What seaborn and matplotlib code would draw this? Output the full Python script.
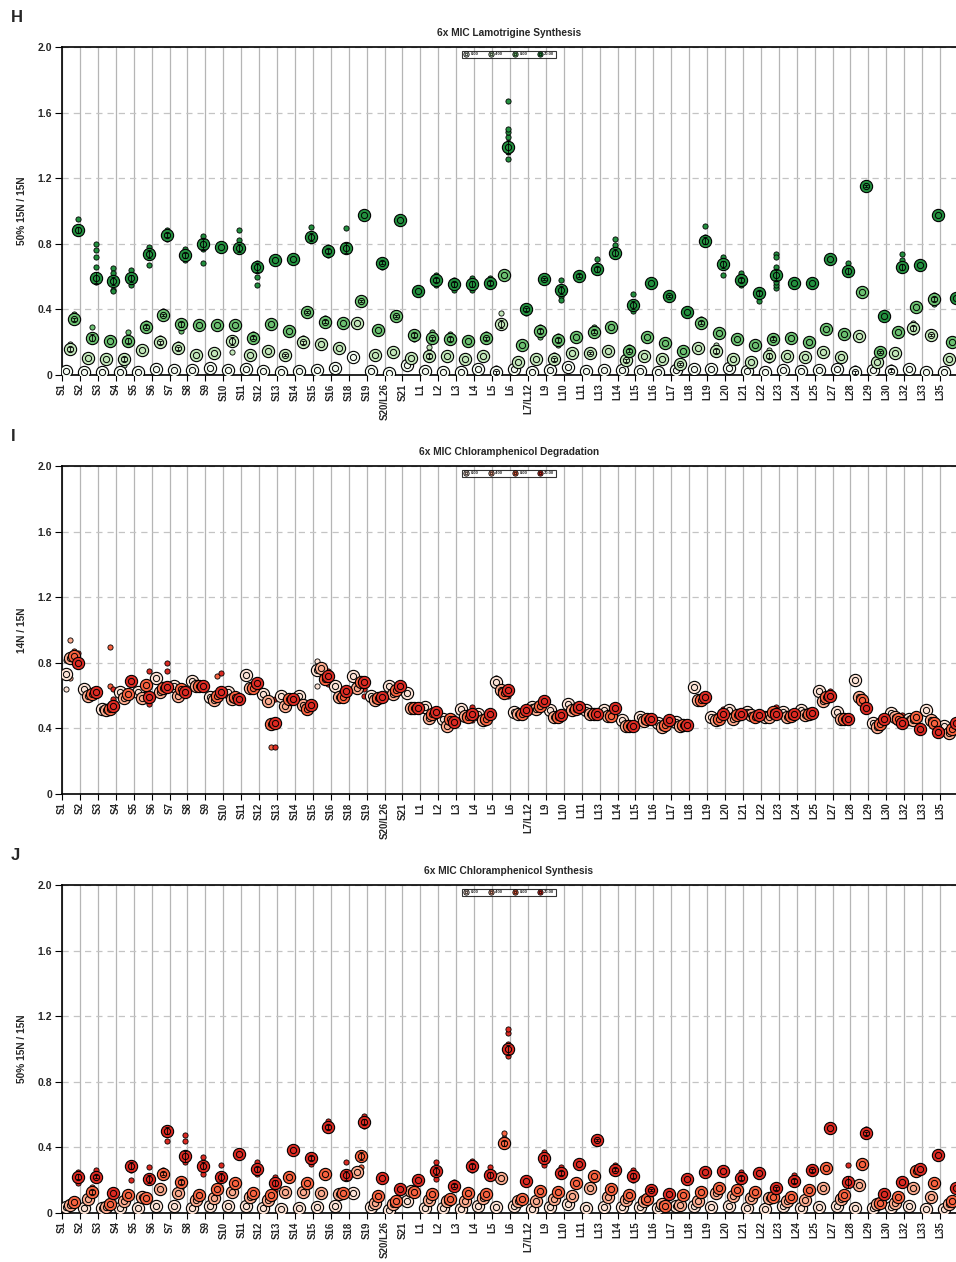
import numpy as np
import pandas as pd
import matplotlib
matplotlib.use("Agg")
import matplotlib.pyplot as plt
import seaborn as sns
from matplotlib.lines import Line2D
from matplotlib.legend_handler import HandlerTuple

sns.set_theme(style="white")
plt.rcParams["font.family"] = ["Liberation Sans", "DejaVu Sans"]
plt.rcParams["font.weight"] = "bold"

# ---------------------------------------------------------------- data
categories = ["S1", "S2", "S3", "S4", "S5", "S6", "S7", "S8", "S9", "S10",
              "S11", "S12", "S13", "S14", "S15", "S16", "S18", "S19", "S20/L26", "S21",
              "L1", "L2", "L3", "L4", "L5", "L6", "L7/L12", "L9", "L10", "L11",
              "L13", "L14", "L15", "L16", "L17", "L18", "L19", "L20", "L21", "L22",
              "L23", "L24", "L25", "L27", "L28", "L29", "L30", "L32", "L33", "L35"]
doses = ["0.00", "4.00", "8.00", "20.00"]
yticks = [0, 0.4, 0.8, 1.2, 1.6, 2.0]
ytick_labels = ["0", "0.4", "0.8", "1.2", "1.6", "2.0"]

# H: Lamotrigine synthesis, 50% 15N / 15N (group means)
H_0 = [0.026, 0.016, 0.016, 0.02, 0.02, 0.035, 0.03, 0.03, 0.04, 0.03,
       0.035, 0.025, 0.016, 0.025, 0.03, 0.04, 0.108, 0.026, 0.014, 0.061,
       0.026, 0.016, 0.016, 0.035, 0.016, 0.035, 0.016, 0.03, 0.047, 0.024,
       0.03, 0.03, 0.026, 0.02, 0.03, 0.036, 0.035, 0.04, 0.026, 0.016,
       0.03, 0.026, 0.03, 0.036, 0.016, 0.03, 0.026, 0.035, 0.016, 0.02]
H_4 = [0.159, 0.105, 0.098, 0.096, 0.152, 0.2, 0.163, 0.122, 0.135, 0.207,
       0.122, 0.146, 0.122, 0.2, 0.19, 0.167, 0.315, 0.122, 0.138, 0.106,
       0.116, 0.116, 0.10, 0.116, 0.31, 0.077, 0.095, 0.095, 0.132, 0.132,
       0.146, 0.09, 0.118, 0.095, 0.065, 0.167, 0.148, 0.10, 0.081, 0.118,
       0.118, 0.11, 0.138, 0.108, 0.238, 0.077, 0.136, 0.284, 0.244, 0.10]
H_8 = [0.34, 0.228, 0.21, 0.21, 0.295, 0.366, 0.31, 0.305, 0.305, 0.305,
       0.228, 0.31, 0.27, 0.386, 0.325, 0.32, 0.45, 0.274, 0.36, 0.244,
       0.224, 0.22, 0.21, 0.224, 0.61, 0.18, 0.268, 0.213, 0.234, 0.264,
       0.29, 0.148, 0.234, 0.193, 0.146, 0.32, 0.258, 0.22, 0.18, 0.22,
       0.228, 0.2, 0.279, 0.248, 0.508, 0.14, 0.264, 0.413, 0.463, 0.203]
H_20 = [0.884, 0.594, 0.573, 0.59, 0.738, 0.854, 0.73, 0.797, 0.78, 0.776,
        0.656, 0.70, 0.71, 0.84, 0.756, 0.776, 0.976, 0.685, 0.945, 0.514,
        0.58, 0.553, 0.555, 0.563, 1.39, 0.40, 0.583, 0.518, 0.606, 0.646,
        0.746, 0.427, 0.559, 0.484, 0.382, 0.82, 0.675, 0.58, 0.498, 0.61,
        0.563, 0.563, 0.71, 0.634, 1.154, 0.36, 0.66, 0.67, 0.976, 0.47]
H_reps = {
    ("S1", "20.00"): [0.95, 0.865], ("S1", "8.00"): [0.37], ("S1", "4.00"): [0.19],
    ("S2", "20.00"): [0.80, 0.76, 0.72, 0.66, 0.57], ("S2", "8.00"): [0.29],
    ("S3", "20.00"): [0.65, 0.62, 0.52, 0.51],
    ("S4", "20.00"): [0.64, 0.55], ("S4", "8.00"): [0.26], ("S4", "4.00"): [0.06],
    ("S5", "20.00"): [0.78, 0.67], ("S5", "8.00"): [0.32],
    ("S6", "20.00"): [0.885, 0.83], ("S6", "8.00"): [0.39], ("S6", "4.00"): [0.225],
    ("S7", "20.00"): [0.77, 0.70], ("S7", "8.00"): [0.33, 0.27], ("S7", "4.00"): [0.19],
    ("S8", "20.00"): [0.845, 0.77, 0.68],
    ("S10", "20.00"): [0.885, 0.825], ("S10", "4.00"): [0.14],
    ("S11", "20.00"): [0.68, 0.60, 0.55], ("S11", "8.00"): [0.25],
    ("S13", "4.00"): [0.14],
    ("S14", "20.00"): [0.905], ("S14", "8.00"): [0.40], ("S14", "4.00"): [0.225],
    ("S15", "20.00"): [0.78, 0.73], ("S15", "8.00"): [0.35],
    ("S16", "20.00"): [0.79, 0.894],
    ("S18", "8.00"): [0.47],
    ("S19", "20.00"): [0.66],
    ("S20/L26", "8.00"): [0.38],
    ("S21", "8.00"): [0.26, 0.22],
    ("L1", "20.00"): [0.61, 0.55], ("L1", "8.00"): [0.25, 0.26], ("L1", "4.00"): [0.14, 0.17],
    ("L2", "20.00"): [0.58, 0.52], ("L2", "8.00"): [0.25],
    ("L3", "20.00"): [0.59, 0.52],
    ("L4", "20.00"): [0.59, 0.54], ("L4", "8.00"): [0.25],
    ("L5", "20.00"): [1.45, 1.48, 1.50, 1.67, 1.32, 1.36], ("L5", "4.00"): [0.376],
    ("L5", "0.00"): [0.04],
    ("L6", "20.00"): [0.42, 0.38],
    ("L7/L12", "20.00"): [0.60], ("L7/L12", "8.00"): [0.29, 0.23],
    ("L9", "20.00"): [0.58, 0.48, 0.46], ("L9", "8.00"): [0.24, 0.18], ("L9", "4.00"): [0.12],
    ("L10", "20.00"): [0.62, 0.59],
    ("L11", "20.00"): [0.67, 0.71], ("L11", "8.00"): [0.29], ("L11", "4.00"): [0.15],
    ("L13", "20.00"): [0.79, 0.83],
    ("L14", "20.00"): [0.494, 0.39], ("L14", "8.00"): [0.17], ("L14", "4.00"): [0.12],
    ("L16", "20.00"): [0.50],
    ("L17", "4.00"): [0.08],
    ("L18", "20.00"): [0.84, 0.908], ("L18", "8.00"): [0.34],
    ("L19", "20.00"): [0.70, 0.61, 0.72], ("L19", "4.00"): [0.18],
    ("L20", "20.00"): [0.61, 0.62, 0.55],
    ("L21", "20.00"): [0.52, 0.45],
    ("L22", "20.00"): [0.74, 0.72, 0.66, 0.53, 0.55, 0.57], ("L22", "8.00"): [0.24, 0.20],
    ("L22", "4.00"): [0.15, 0.09],
    ("L27", "20.00"): [0.68],
    ("L28", "20.00"): [1.17, 1.14], ("L28", "0.00"): [0.04],
    ("L29", "8.00"): [0.16],
    ("L30", "20.00"): [0.70, 0.74], ("L30", "0.00"): [0.05],
    ("L32", "4.00"): [0.32, 0.26],
    ("L33", "8.00"): [0.49, 0.43], ("L33", "4.00"): [0.26],
}

# I: Chloramphenicol degradation, 14N / 15N
I_0 = [0.73, 0.638, 0.516, 0.62, 0.62, 0.71, 0.66, 0.69, 0.59, 0.62,
       0.726, 0.61, 0.60, 0.60, 0.756, 0.658, 0.72, 0.60, 0.66, 0.615,
       0.53, 0.455, 0.52, 0.49, 0.685, 0.50, 0.53, 0.51, 0.55, 0.51,
       0.51, 0.45, 0.47, 0.43, 0.44, 0.65, 0.467, 0.51, 0.50, 0.47,
       0.50, 0.51, 0.63, 0.50, 0.695, 0.43, 0.495, 0.455, 0.51, 0.415]
I_4 = [0.827, 0.60, 0.51, 0.587, 0.585, 0.62, 0.60, 0.66, 0.575, 0.58,
       0.645, 0.57, 0.537, 0.54, 0.767, 0.59, 0.645, 0.576, 0.61, 0.523,
       0.465, 0.415, 0.475, 0.45, 0.636, 0.485, 0.52, 0.467, 0.51, 0.487,
       0.475, 0.415, 0.445, 0.41, 0.415, 0.576, 0.45, 0.46, 0.48, 0.47,
       0.467, 0.48, 0.565, 0.455, 0.59, 0.41, 0.47, 0.45, 0.45, 0.37]
I_8 = [0.84, 0.61, 0.516, 0.61, 0.665, 0.645, 0.64, 0.66, 0.595, 0.59,
       0.645, 0.427, 0.577, 0.52, 0.70, 0.594, 0.68, 0.585, 0.635, 0.523,
       0.485, 0.455, 0.47, 0.455, 0.615, 0.49, 0.535, 0.467, 0.52, 0.485,
       0.477, 0.415, 0.455, 0.42, 0.42, 0.576, 0.46, 0.48, 0.47, 0.50,
       0.475, 0.49, 0.59, 0.455, 0.575, 0.425, 0.46, 0.467, 0.43, 0.395]
I_20 = [0.80, 0.62, 0.535, 0.69, 0.59, 0.655, 0.62, 0.66, 0.62, 0.58,
        0.675, 0.435, 0.58, 0.54, 0.72, 0.63, 0.685, 0.59, 0.66, 0.523,
        0.50, 0.44, 0.49, 0.485, 0.636, 0.51, 0.57, 0.48, 0.53, 0.485,
        0.523, 0.415, 0.46, 0.45, 0.42, 0.59, 0.487, 0.487, 0.48, 0.49,
        0.487, 0.495, 0.60, 0.457, 0.523, 0.457, 0.435, 0.395, 0.38, 0.43]
I_reps = {
    ("S1", "0.00"): [0.64, 0.82], ("S1", "4.00"): [0.94, 0.71], ("S1", "8.00"): [0.87],
    ("S1", "20.00"): [0.86, 0.78],
    ("S3", "8.00"): [0.898, 0.66], ("S3", "20.00"): [0.58, 0.64],
    ("S5", "20.00"): [0.75, 0.55],
    ("S6", "20.00"): [0.80, 0.75],
    ("S9", "8.00"): [0.72], ("S9", "20.00"): [0.74],
    ("S12", "8.00"): [0.285], ("S12", "20.00"): [0.285, 0.58],
    ("S15", "0.00"): [0.81, 0.66], ("S15", "20.00"): [0.75, 0.67],
    ("S18", "20.00"): [0.64, 0.60],
    ("L3", "20.00"): [0.53, 0.45],
    ("L5", "0.00"): [0.71], ("L5", "20.00"): [0.60],
    ("L19", "20.00"): [0.52],
    ("L22", "20.00"): [0.53],
    ("L25", "20.00"): [0.63],
    ("L30", "20.00"): [0.48],
}

# J: Chloramphenicol synthesis, 50% 15N / 15N
J_0 = [0.039, 0.03, 0.03, 0.03, 0.03, 0.045, 0.04, 0.03, 0.045, 0.04,
       0.04, 0.03, 0.024, 0.03, 0.035, 0.04, 0.122, 0.035, 0.02, 0.071,
       0.033, 0.03, 0.024, 0.04, 0.035, 0.04, 0.024, 0.035, 0.055, 0.03,
       0.035, 0.035, 0.035, 0.03, 0.04, 0.04, 0.035, 0.045, 0.03, 0.024,
       0.04, 0.03, 0.035, 0.04, 0.03, 0.03, 0.035, 0.04, 0.024, 0.024]
J_4 = [0.049, 0.085, 0.039, 0.073, 0.10, 0.146, 0.124, 0.077, 0.09, 0.126,
       0.096, 0.081, 0.126, 0.126, 0.124, 0.116, 0.248, 0.06, 0.055, 0.136,
       0.08, 0.076, 0.071, 0.09, 0.211, 0.071, 0.071, 0.085, 0.104, 0.15,
       0.10, 0.08, 0.071, 0.055, 0.05, 0.076, 0.12, 0.104, 0.09, 0.09,
       0.071, 0.08, 0.154, 0.085, 0.17, 0.055, 0.063, 0.154, 0.10, 0.055]
J_8 = [0.069, 0.126, 0.053, 0.11, 0.09, 0.24, 0.187, 0.11, 0.146, 0.185,
       0.12, 0.107, 0.218, 0.181, 0.236, 0.122, 0.348, 0.104, 0.071, 0.126,
       0.116, 0.085, 0.122, 0.118, 0.425, 0.085, 0.136, 0.126, 0.181, 0.226,
       0.146, 0.11, 0.085, 0.04, 0.11, 0.128, 0.15, 0.142, 0.128, 0.095,
       0.10, 0.142, 0.272, 0.11, 0.30, 0.063, 0.10, 0.258, 0.185, 0.073]
J_20 = [0.221, 0.221, 0.124, 0.289, 0.209, 0.502, 0.347, 0.289, 0.218, 0.359,
        0.266, 0.181, 0.384, 0.333, 0.526, 0.23, 0.557, 0.216, 0.146, 0.199,
        0.254, 0.165, 0.285, 0.23, 0.998, 0.197, 0.335, 0.244, 0.30, 0.445,
        0.264, 0.228, 0.142, 0.116, 0.207, 0.248, 0.256, 0.215, 0.244, 0.15,
        0.197, 0.26, 0.52, 0.19, 0.486, 0.116, 0.19, 0.266, 0.354, 0.15]
J_reps = {
    ("S1", "20.00"): [0.25, 0.18],
    ("S2", "20.00"): [0.26, 0.24], ("S2", "8.00"): [0.16],
    ("S4", "20.00"): [0.26, 0.20],
    ("S5", "20.00"): [0.28],
    ("S6", "20.00"): [0.44], ("S6", "8.00"): [0.26],
    ("S7", "20.00"): [0.476, 0.44, 0.31], ("S7", "8.00"): [0.15],
    ("S8", "20.00"): [0.34, 0.24],
    ("S9", "20.00"): [0.29],
    ("S11", "20.00"): [0.31, 0.24],
    ("S12", "20.00"): [0.22, 0.14],
    ("S14", "20.00"): [0.30],
    ("S15", "20.00"): [0.56],
    ("S16", "20.00"): [0.31],
    ("S18", "20.00"): [0.59, 0.53], ("S18", "8.00"): [0.28],
    ("L1", "20.00"): [0.31, 0.21],
    ("L2", "20.00"): [0.19],
    ("L3", "20.00"): [0.32, 0.26],
    ("L4", "20.00"): [0.28],
    ("L5", "20.00"): [1.03, 1.10, 1.12, 0.96], ("L5", "8.00"): [0.46, 0.49],
    ("L7/L12", "20.00"): [0.37, 0.29],
    ("L9", "20.00"): [0.28],
    ("L11", "20.00"): [0.46],
    ("L13", "20.00"): [0.29],
    ("L14", "20.00"): [0.26, 0.20],
    ("L15", "20.00"): [0.16],
    ("L20", "20.00"): [0.25],
    ("L22", "20.00"): [0.17],
    ("L23", "20.00"): [0.23],
    ("L24", "20.00"): [0.28],
    ("L27", "20.00"): [0.29],
    ("L28", "20.00"): [0.51],
}

GREENS = ["#f4fbf2", "#c2e6b9", "#6cc071", "#23903f"]
REDS = ["#fde3d6", "#fbab8f", "#f7623f", "#dc2a22"]

# horizontal placement of the four dose groups right of each category tick
OFFSETS = [0.24, 0.47, 0.66, 0.87]

W, H = 956, 1262
fig = plt.figure(figsize=(W / 100, H / 100), dpi=100)


def frame(means, reps):
    rows, rrows = [], []
    for k, d in enumerate(doses):
        for i, c in enumerate(categories):
            rows.append({"cat": c, "dose": d, "x": i + OFFSETS[k], "value": means[k][i]})
            for v in reps.get((c, d), []):
                rrows.append({"cat": c, "dose": d, "x": i + OFFSETS[k], "value": v})
    return pd.DataFrame(rows), pd.DataFrame(rrows)


def panel(top_px, letter, title, ylabel, means, reps, pal, show_err=True):
    ax = fig.add_axes([62 / W, 1 - (top_px + 328) / H, (W - 62) / W, 328 / H])
    df, dr = frame(means, reps)
    for k, d in enumerate(doses):
        sub = df[df["dose"] == d]
        rsub = dr[dr["dose"] == d] if len(dr) else dr
        if len(rsub):
            sns.scatterplot(data=rsub, x="x", y="value", color=pal[k], s=14,
                            edgecolor="black", linewidth=0.6, ax=ax, zorder=3 + k * 0.1)
            if show_err:
                # standard error of the replicates around the group mean
                for (c, x), g in rsub.groupby(["cat", "x"]):
                    m = sub.loc[sub["cat"] == c, "value"].iloc[0]
                    vals = np.r_[g["value"].to_numpy(), m]
                    err = vals.std() / np.sqrt(len(vals))
                    ax.errorbar([x], [m], yerr=[err], fmt="none", ecolor="black",
                                elinewidth=0.6, capsize=1.6, capthick=0.6,
                                zorder=4.06 + k * 0.1)
        sns.scatterplot(data=sub, x="x", y="value", color=pal[k], s=78,
                        edgecolor="black", linewidth=0.8, ax=ax, zorder=4 + k * 0.1)
        sns.scatterplot(data=sub, x="x", y="value", color=pal[k], s=20,
                        edgecolor="black", linewidth=0.7, ax=ax, zorder=4.05 + k * 0.1)

    ax.set_xlim(0, (W - 62) / 17.92)
    ax.set_ylim(0, 2.0)
    ax.set_xticks(range(len(categories)))
    ax.set_xticklabels(categories, rotation=90, fontsize=7, fontweight="bold")
    ax.set_yticks(yticks)
    ax.set_yticklabels(ytick_labels, fontsize=7.5, fontweight="bold")
    ax.tick_params(axis="x", length=4, width=0.8, pad=2, color="black", direction="out",
                   bottom=True)
    ax.tick_params(axis="y", length=5, width=0.8, pad=2, color="black", direction="out",
                   left=True)
    ax.set_xlabel("")
    ax.set_ylabel(ylabel, fontsize=7.3, fontweight="bold")
    ax.yaxis.set_label_coords(-0.039, 0.5)
    ax.set_title(title, fontsize=7.3, fontweight="bold", pad=8)

    ax.set_axisbelow(True)
    ax.xaxis.grid(True, color="#b5b5b5", lw=0.9)
    ax.yaxis.grid(True, color="#c4c4c4", lw=0.9, ls=(0, (5, 4)))
    for side in ("left", "bottom", "top"):
        ax.spines[side].set_color("black")
        ax.spines[side].set_linewidth(1.2)
    ax.spines["right"].set_visible(False)

    handles = [(Line2D([], [], ls="", marker="o", ms=3.8, mfc=pal[k], mec="black", mew=0.6),
                Line2D([], [], ls="", marker="o", ms=1.8, mfc=pal[k], mec="black", mew=0.5))
               for k in range(len(doses))]
    leg = ax.legend(handles, doses, handler_map={tuple: HandlerTuple(ndivide=1, pad=0)},
                    ncol=4, fontsize=3, loc="upper center", bbox_to_anchor=(0.5, 0.988),
                    frameon=True, fancybox=False, edgecolor="black", borderpad=0.35,
                    handlelength=1.2, handletextpad=0.4, columnspacing=2.4,
                    borderaxespad=0)
    leg.get_frame().set_linewidth(0.8)
    fig.text(11 / W, 1 - (top_px - 29) / H, letter, fontsize=12, fontweight="bold",
             ha="left", va="center")
    return ax


panel(47, "H", "6x MIC Lamotrigine Synthesis", "50% 15N / 15N",
      [H_0, H_4, H_8, H_20], H_reps, GREENS)
panel(466, "I", "6x MIC Chloramphenicol Degradation", "14N / 15N",
      [I_0, I_4, I_8, I_20], I_reps, REDS, show_err=False)
panel(885, "J", "6x MIC Chloramphenicol Synthesis", "50% 15N / 15N",
      [J_0, J_4, J_8, J_20], J_reps, REDS)

fig.savefig("out.png", dpi=100)
